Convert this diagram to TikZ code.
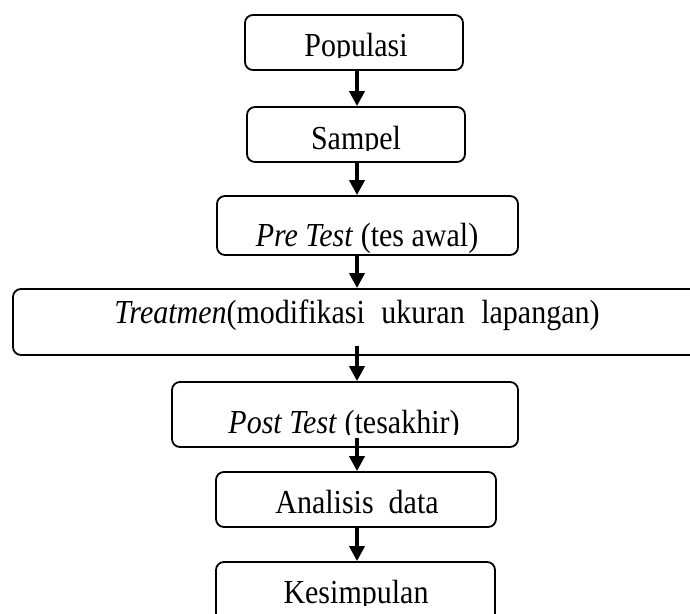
\documentclass[tikz,border=0pt]{standalone}
\usepackage{fontspec}
\setmainfont{Liberation Serif}
\usetikzlibrary{arrows.meta,calc}
\newcommand{\tallt}[1]{\scalebox{1}[1.12]{#1}}
\begin{document}
\begin{tikzpicture}[x=1pt,y=-1pt,
  flowbox/.style={draw, line width=1.8pt, rounded corners=8pt, inner sep=0pt},
  txt/.style={anchor=base, inner sep=0pt, font=\fontsize{30}{36}\selectfont},
  arr/.style={line width=3.8pt, -{Triangle[length=15pt,width=15pt]}}]
\useasboundingbox (0,0) rectangle (690,613);
\clip (0,0) rectangle (690,613);
% boxes
\node[flowbox, minimum width=218pt, minimum height=55pt] (pop) at (354,42.5) {};
\node[flowbox, minimum width=218pt, minimum height=55pt] (sam) at (356,134.5) {};
\node[flowbox, minimum width=301pt, minimum height=59pt] (pre) at (367.5,225.5) {};
\node[flowbox, minimum width=688pt, minimum height=66pt] (trt) at (357,322) {};
\node[flowbox, minimum width=346pt, minimum height=65pt] (pst) at (345,414.5) {};
\node[flowbox, minimum width=280pt, minimum height=55pt] (ana) at (356,499.5) {};
\node[flowbox, minimum width=279pt, minimum height=76pt] (kes) at (355.5,600) {};
% texts (clipped at the baseline as in the reference)
\begin{scope}\clip (pop.north west) rectangle (463,57);
\node[txt] (tpop) at (356,56) {\tallt{Populasi}};\end{scope}
\begin{scope}\clip (sam.north west) rectangle (465,150);
\node[txt] (tsam) at (356,149) {\tallt{Sampel}};\end{scope}
\node[txt] (tpre) at (367,246) {\tallt{\textit{Pre Test} (tes awal)}};
\node[txt] (ttrt) at (357,323) {\tallt{\textit{Treatmen}(modifikasi\hspace{0.55em}ukuran\hspace{0.55em}lapangan)}};
\begin{scope}\clip (pst.north west) rectangle (518,434);
\node[txt] (tpst) at (344,433) {\tallt{\textit{Post Test} (tesakhir)}};\end{scope}
\begin{scope}\clip (ana.north west) rectangle (496,514);
\node[txt] (tana) at (357,513) {\tallt{Analisis\hspace{0.5em}data}};\end{scope}
\begin{scope}\clip (kes.north west) rectangle (496,605);
\node[txt] (tkes) at (356,603) {\tallt{Kesimpulan}};\end{scope}
% arrows
\coordinate (ax) at (357,0);
\draw[arr] (ax |- pop.south) -- (ax |- sam.north);
\draw[arr] (ax |- sam.south) -- (ax |- pre.north);
\draw[arr] (ax |- pre.south) -- (ax |- trt.north);
\draw[arr] ($(ax |- trt.south)+(0,-10)$) -- (ax |- pst.north);
\draw[arr] ($(ax |- pst.south)+(0,-10)$) -- (ax |- ana.north);
\draw[arr] (ax |- ana.south) -- (ax |- kes.north);
\end{tikzpicture}
\end{document}
